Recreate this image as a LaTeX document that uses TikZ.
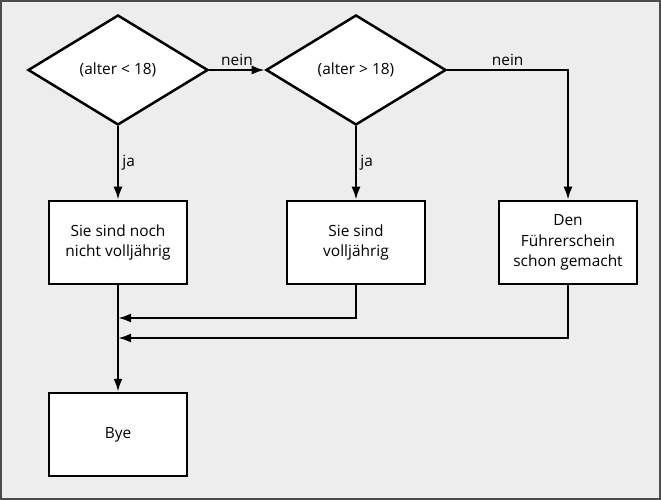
\documentclass[tikz,border=0pt]{standalone}
\usepackage{fontspec}
\setmainfont{Open Sans}
\usetikzlibrary{shapes.geometric,arrows.meta}

\tikzset{
	frage/.style={diamond, draw, fill=white, line width=2.5bp, minimum width=180bp, minimum height=110bp, inner sep=0pt},
	kasten/.style={rectangle, draw, fill=white, line width=2.5bp, minimum width=138bp, minimum height=83bp, align=center},
	pfeil/.style={-{Latex[length=13bp,width=9bp]}, line width=2.2bp}
}

\begin{document}
\begin{tikzpicture}[x=1bp, y=-1bp, font=\fontsize{15.5}{20.5}\selectfont]
	\useasboundingbox (0,0) rectangle (661,500);

	\draw
		[fill=black!7, draw=black!70, line width=2bp] (1,1) rectangle (660,499);

	\node [frage] (alt1) at (118,70) {(alter < 18)};
	\node [frage] (alt2) at (356,70) {(alter > 18)};

	\node [kasten] (jung) at (118,242.5) {Sie sind noch\\nicht volljährig};
	\node [kasten] (voll) at (356,242.5) {Sie sind\\volljährig};
	\node [kasten] (schein) at (568,242.5) {Den\\Führerschein\\schon gemacht};
	\node [kasten] (bye) at (118,434.5) {Bye};

	\coordinate (m1) at (118,318);
	\coordinate (m2) at (118,338);

	\draw
		[pfeil] (alt1) -- node [anchor=south] {nein} (alt2);

	\draw
		[pfeil] (alt2) -| node [pos=0.25, anchor=south] {nein} (schein);

	\draw
		[pfeil] (alt1) -- node [anchor=west] {ja} (jung);

	\draw
		[pfeil] (alt2) -- node [anchor=west] {ja} (voll);

	\draw
		[pfeil] (jung) -- (bye);

	\draw
		[pfeil] (voll) |- (m1);

	\draw
		[pfeil] (schein) |- (m2);
\end{tikzpicture}
\end{document}
